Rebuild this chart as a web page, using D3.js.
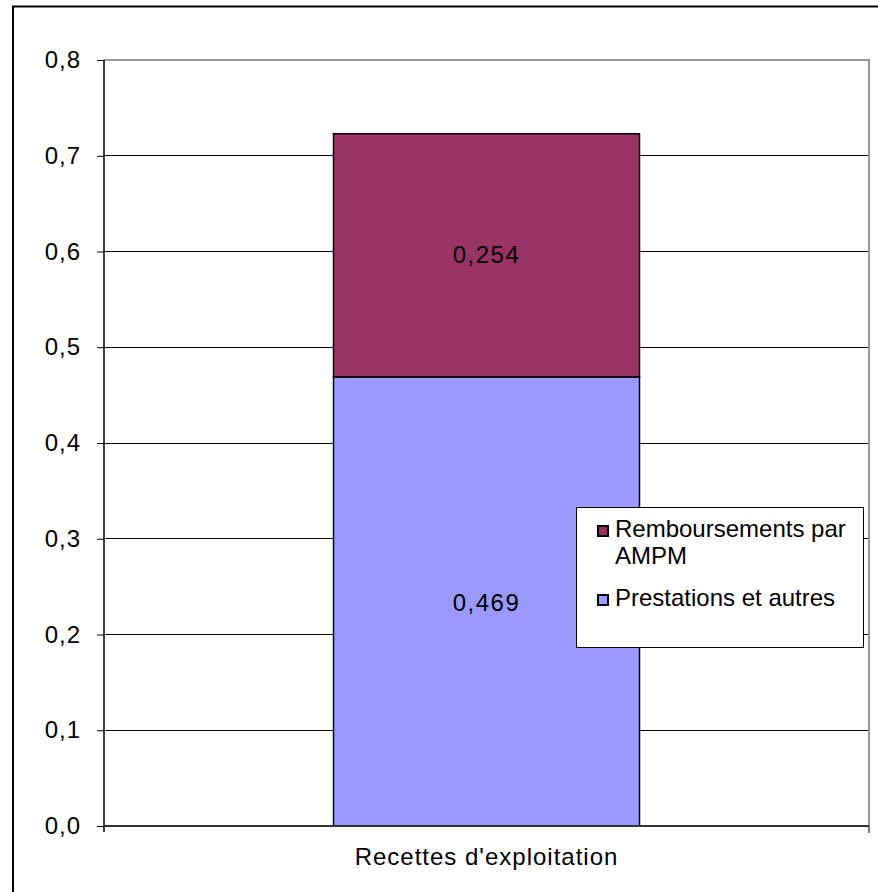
<!DOCTYPE html>
<html><head><meta charset="utf-8">
<script src="https://cdn.jsdelivr.net/npm/d3@7"></script>
<style>body{margin:0;background:#fff}svg{display:block}text{font-family:"Liberation Sans",Arial,sans-serif}</style>
</head><body>
<script>
const categories = ["Recettes d'exploitation"];
const seriesNames = ["Prestations et autres", "Remboursements par AMPM"];
const prestations = [0.469];
const remboursements = [0.254];
const yTicks = [0, 0.1, 0.2, 0.3, 0.4, 0.5, 0.6, 0.7, 0.8];
const colors = ["#9999FF", "#993366"];

(function(){
const W = 878, H = 892;
const FS = 24, LS = "1px";
const svg = d3.select("body").append("svg").attr("width", W).attr("height", H);
// outer chart border
svg.append("path").attr("d", "M13,892V6.5H878").attr("fill","none").attr("stroke","#000").attr("stroke-width",2);

const pL = 104, pR = 869, pT = 60, pB = 826;
const y = d3.scaleLinear().domain([0, 0.8]).range([pB, pT]);
const x = d3.scaleBand().domain(categories).range([pL, pR]).paddingInner(0).paddingOuter(0.3);

// gridlines
svg.append("g").selectAll("line").data(yTicks.filter(d=>d>0)).join("line")
  .attr("x1", pL).attr("x2", pR).attr("y1", d=>y(d)).attr("y2", d=>y(d))
  .attr("stroke","#000").attr("stroke-width",1).attr("shape-rendering","crispEdges");
// plot border right/top gray
svg.append("path").attr("d", `M${pL},${pT}H${pR}V${pB}`).attr("fill","none")
  .attr("stroke","#999").attr("stroke-width",2);

const stackData = categories.map((c,i)=>({cat:c, p:prestations[i], r:remboursements[i]}));
const stack = d3.stack().keys(["p","r"])(stackData);
const bw = 306;
stack.forEach((s,si)=>{
  svg.append("g").selectAll("rect").data(s).join("rect")
    .attr("x", d=>x(d.data.cat)+x.bandwidth()/2-bw/2)
    .attr("width", bw)
    .attr("y", d=>y(d[1])).attr("height", d=>y(d[0])-y(d[1]))
    .attr("fill", colors[si]).attr("stroke","#000").attr("stroke-width",1.5);
  svg.append("g").selectAll("text").data(s).join("text")
    .attr("x", d=>x(d.data.cat)+x.bandwidth()/2)
    .attr("y", d=>(y(d[0])+y(d[1]))/2+(si===0?10:8))
    .attr("text-anchor","middle").attr("font-size",FS).attr("letter-spacing","1.5px").attr("fill","#000")
    .text(d=>d3.format(".3f")(d[1]-d[0]).replace(".",","));
});

// y axis
const yAxis = d3.axisLeft(y).tickValues(yTicks).tickSize(7).tickPadding(16)
  .tickFormat(d=>d3.format(".1f")(d).replace(".",","));
const ga = svg.append("g").attr("transform",`translate(${pL},0)`).call(yAxis);
ga.select(".domain").attr("stroke","#000").attr("stroke-width",1.5).attr("d",`M0,${pT}V${pB+6}`);
ga.selectAll(".tick line").attr("stroke","#000");
ga.selectAll(".tick text").attr("font-size",FS).attr("letter-spacing",LS).attr("fill","#000")
  .attr("font-family","Liberation Sans, Arial, sans-serif");

// x axis
const xAxis = d3.axisBottom(x).tickSize(0).tickPadding(22);
const gx = svg.append("g").attr("transform",`translate(0,${pB})`).call(xAxis);
gx.select(".domain").attr("stroke","#333").attr("stroke-width",2).attr("d",`M${pL},0H${pR}`);
gx.selectAll(".tick text").attr("font-size",FS).attr("letter-spacing",LS).attr("fill","#000")
  .attr("font-family","Liberation Sans, Arial, sans-serif");
svg.append("line").attr("x1",pR).attr("x2",pR).attr("y1",pB).attr("y2",pB+7).attr("stroke","#000");

// legend
const lg = svg.append("g");
lg.append("rect").attr("x",576.5).attr("y",507.5).attr("width",287).attr("height",140)
  .attr("fill","#fff").attr("stroke","#000").attr("stroke-width",1);
const legItems = [
  {lines:["Remboursements par","AMPM"], color:colors[1], base:537},
  {lines:["Prestations et autres"], color:colors[0], base:606}
];
legItems.forEach(it=>{
  lg.append("rect").attr("x",598).attr("y",it.base-11).attr("width",10).attr("height",10)
    .attr("fill",it.color).attr("stroke","#000").attr("stroke-width",2);
  const t = lg.append("text").attr("x",615).attr("y",it.base).attr("font-size",FS).attr("fill","#000");
  it.lines.forEach((l,i)=>t.append("tspan").attr("x",615).attr("dy",i?27:0).text(l));
});
})();
</script>
</body></html>
